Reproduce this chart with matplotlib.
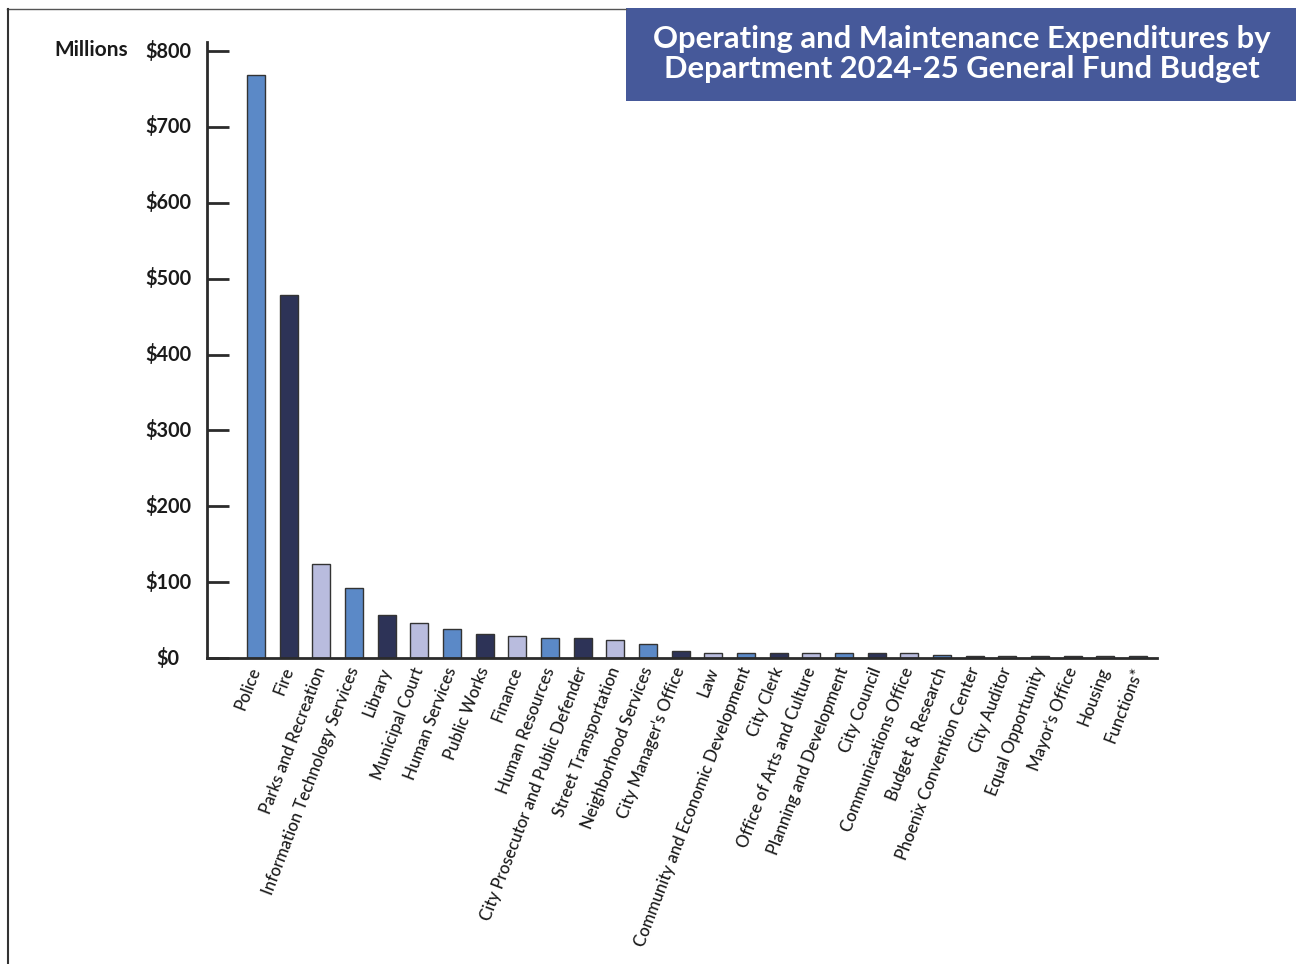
import matplotlib
matplotlib.use("Agg")
import matplotlib.pyplot as plt
import matplotlib.transforms as mtransforms
from matplotlib.patches import Rectangle
from matplotlib.lines import Line2D

departments = [
    "Police", "Fire", "Parks and Recreation", "Information Technology Services",
    "Library", "Municipal Court", "Human Services", "Public Works", "Finance",
    "Human Resources", "City Prosecutor and Public Defender", "Street Transportation",
    "Neighborhood Services", "City Manager's Office", "Law",
    "Community and Economic Development", "City Clerk", "Office of Arts and Culture",
    "Planning and Development", "City Council", "Communications Office",
    "Budget & Research", "Phoenix Convention Center", "City Auditor",
    "Equal Opportunity", "Mayor's Office", "Housing", "Functions*",
]
values = [768, 478, 124, 92.5, 56.5, 45.5, 38, 31.5, 29.5, 27, 26, 24, 18, 9.8,
          7.1, 7.1, 6.2, 6.2, 6.4, 6.2, 6.2, 3.6, 3.2, 3.2, 3.2, 3.2, 3.2, 3.2]
yticks = [0, 100, 200, 300, 400, 500, 600, 700, 800]
ytick_labels = ["$0", "$100", "$200", "$300", "$400", "$500", "$600", "$700", "$800"]
title_lines = ["Operating and Maintenance Expenditures by",
               "Department 2024-25 General Fund Budget"]

palette = ["#5B89C7", "#2D3357", "#B9BCDE"]
colors = [palette[i % 3] for i in range(len(values))]

FONT = "Lato"
W, H = 1296, 964
fig = plt.figure(figsize=(W / 100, H / 100), dpi=100)

def fx(px):
    return px / W

def fy(py):
    return 1 - py / H

# frame lines (top and left)
fig.add_artist(Line2D([fx(7), fx(626)], [fy(8.5), fy(8.5)], color="#555555", lw=1.0))
fig.add_artist(Line2D([fx(7.5), fx(7.5)], [fy(8.5), fy(964)], color="#333333", lw=1.5))

# title box
fig.add_artist(Rectangle((fx(626), fy(101)), fx(1296) - fx(626), fy(8) - fy(101),
                         transform=fig.transFigure, facecolor="#46599A", edgecolor="none"))
fig.text(fx(962), fy(54), "\n".join(title_lines), ha="center", va="center",
         color="white", fontsize=22.3, fontweight="bold", family=FONT, linespacing=1.12)

ax = fig.add_axes([fx(207), fy(658), fx(1157) - fx(207), fy(42) - fy(658)])
x = list(range(len(values)))
ax.bar(x, values, width=0.55, color=colors, edgecolor="#333333", linewidth=1.0, zorder=2)

ax.set_xlim(-1.5, 27.58)
ax.set_ylim(0, 812)
for s in ["top", "right"]:
    ax.spines[s].set_visible(False)
for s in ["left", "bottom"]:
    ax.spines[s].set_color("#2b2b2b")
    ax.spines[s].set_linewidth(2.0)

ax.set_yticks(yticks)
ax.set_yticklabels([])
ax.tick_params(axis="y", direction="in", length=16, width=2, color="#2b2b2b")
ytrans = mtransforms.blended_transform_factory(fig.transFigure, ax.transData)
for v, lab in zip(yticks, ytick_labels):
    ax.text(fx(168), v, lab, transform=ytrans, ha="center", va="center",
            fontsize=14.3, fontweight="bold", family=FONT, color="#1a1a1a")

fig.text(fx(91), fy(50), "Millions", ha="center", va="center", fontsize=15,
         fontweight="bold", family=FONT, color="#1a1a1a")

ax.set_xticks(x)
ax.set_xticklabels(departments, rotation=69, ha="right", va="center",
                   rotation_mode="anchor", fontsize=12.1, fontweight="medium",
                   family=FONT, color="#1a1a1a")
ax.tick_params(axis="x", length=0, pad=7)

fig.savefig("out.png", dpi=100)
